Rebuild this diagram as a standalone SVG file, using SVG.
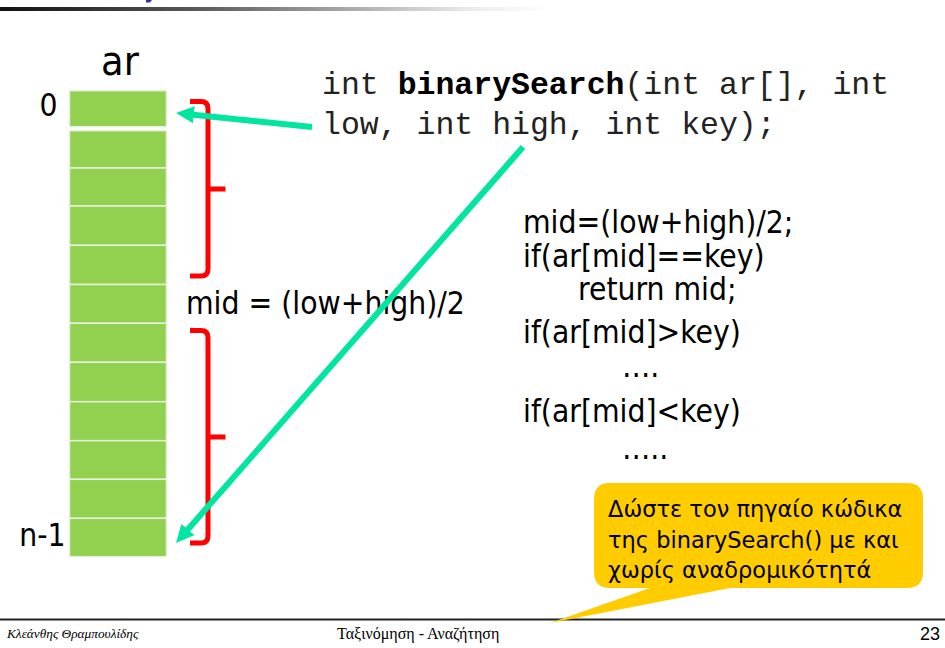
<svg xmlns="http://www.w3.org/2000/svg" width="945" height="648" viewBox="0 0 945 648">
<style>
.t{font-family:"DejaVu Sans Condensed","DejaVu Sans",sans-serif;font-stretch:condensed;fill:#000}
.tn{font-family:"DejaVu Sans",sans-serif;fill:#000}
.code{font-family:"Liberation Mono","Courier New",monospace;font-size:31.5px;fill:#222}
.cell{fill:#92D050;stroke:#E8F0DE;stroke-width:1.5}
.br{fill:none;stroke:#FF0000;stroke-width:5;stroke-linejoin:round}
.arr{fill:none;stroke:#00E5A0;stroke-width:6;marker-end:url(#ah)}
</style>
<defs>
<linearGradient id="topbar" x1="0" y1="0" x2="945" y2="0" gradientUnits="userSpaceOnUse">
<stop offset="0" stop-color="#111"/>
<stop offset="0.21" stop-color="#5a5a5a"/>
<stop offset="0.35" stop-color="#a0a0a0"/>
<stop offset="0.5" stop-color="#ececec"/>
<stop offset="0.58" stop-color="#fff"/>
</linearGradient>
<marker id="ah" markerUnits="userSpaceOnUse" markerWidth="18" markerHeight="17" refX="3" refY="8.5" orient="auto" viewBox="0 0 18 17">
<path d="M0,0 L18,8.5 L0,17 Z" fill="#00E5A0"/>
</marker>
</defs>
<rect width="945" height="648" fill="#fff"/>
<g id="header">
<rect x="0" y="7" width="945" height="4" fill="url(#topbar)"/>
<path d="M146,0 H152 L150,2.5 H146 Z" fill="#333399"/>
</g>
<g id="array">
<rect class="cell" x="69.5" y="90.7" width="97" height="36"/>
<rect class="cell" x="69.5" y="130.7" width="97" height="37.3"/>
<rect class="cell" x="69.5" y="168" width="97" height="38"/>
<rect class="cell" x="69.5" y="206" width="97" height="39.3"/>
<rect class="cell" x="69.5" y="245.3" width="97" height="39.2"/>
<rect class="cell" x="69.5" y="284.5" width="97" height="38.8"/>
<rect class="cell" x="69.5" y="323.3" width="97" height="39"/>
<rect class="cell" x="69.5" y="362.3" width="97" height="39.4"/>
<rect class="cell" x="69.5" y="401.7" width="97" height="39"/>
<rect class="cell" x="69.5" y="440.7" width="97" height="38.6"/>
<rect class="cell" x="69.5" y="479.3" width="97" height="39"/>
<rect class="cell" x="69.5" y="518.3" width="97" height="38.4"/>
</g>
<g id="label-ar"><text class="t" x="120" y="75" font-size="41" text-anchor="middle">ar</text></g>
<g id="label-0"><text class="t" x="57.5" y="116" font-size="31.5" text-anchor="end">0</text></g>
<g id="label-n1"><text class="t" x="65.5" y="546" font-size="31.5" text-anchor="end">n-1</text></g>
<g id="bracket-top"><path class="br" d="M190,101.5 H201 Q208,101.5 208,108.5 V189 H225.5 M208,189 V269 Q208,276 201,276 H190"/></g>
<g id="label-mid"><text class="t" x="186" y="314" font-size="31.5">mid = (low+high)/2</text></g>
<g id="bracket-bottom"><path class="br" d="M190,330.5 H201 Q208,330.5 208,337.5 V437 H225.5 M208,437 V536 Q208,543 201,543 H190"/></g>
<g id="signature">
<text class="code" x="322" y="94">int <tspan font-weight="bold" fill="#000">binarySearch</tspan>(int ar[], int</text>
<text class="code" x="322" y="134">low, int high, int key);</text>
</g>
<g id="code-body" class="t" font-size="31.5">
<text x="523" y="233">mid=(low+high)/2;</text>
<text x="523" y="267">if(ar[mid]==key)</text>
<text x="578" y="300">return mid;</text>
<text x="523" y="343">if(ar[mid]&gt;key)</text>
<text x="622" y="377">….</text>
<text x="523" y="422">if(ar[mid]&lt;key)</text>
<text x="622" y="459">…..</text>
</g>
<g id="connectors">
<line class="arr" x1="312" y1="127" x2="190.9" y2="114.5"/>
<line class="arr" x1="523" y1="147" x2="185.9" y2="531.7"/>
</g>
<g id="footer">
<line x1="0" y1="619.5" x2="945" y2="619.5" stroke="#222" stroke-width="2"/>
<text x="7" y="638" font-family="Liberation Serif, serif" font-style="italic" font-size="13.3">Κλεάνθης Θραμπουλίδης</text>
<text x="337" y="639" font-family="Liberation Serif, serif" font-size="16">Ταξινόμηση - Αναζήτηση</text>
<text x="940" y="640" font-family="Liberation Sans, sans-serif" font-size="18" text-anchor="end">23</text>
</g>
<g id="callout">
<path d="M610,483 H907 Q923,483 923,499 V572 Q923,588 907,588 H730 L550,623 L650,588 H610 Q594,588 594,572 V499 Q594,483 610,483 Z" fill="#FFCC00"/>
<text class="tn" font-size="22.5">
<tspan x="608" y="516.5">Δώστε τον πηγαίο κώδικα</tspan>
<tspan x="608" y="547.5">της binarySearch() με και</tspan>
<tspan x="608" y="578">χωρίς αναδρομικότητά</tspan>
</text>
</g>
</svg>
